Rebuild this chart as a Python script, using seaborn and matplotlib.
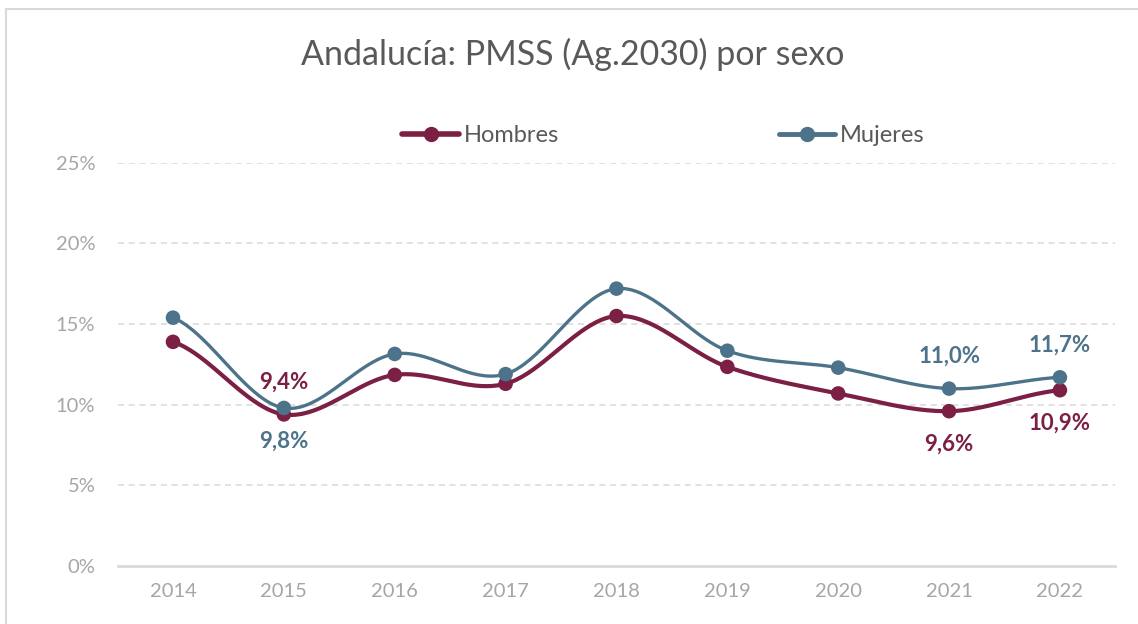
import numpy as np
import pandas as pd
import matplotlib
matplotlib.use("Agg")
import matplotlib.pyplot as plt
import seaborn as sns
from matplotlib.lines import Line2D
from matplotlib.patches import Rectangle

years = [2014, 2015, 2016, 2017, 2018, 2019, 2020, 2021, 2022]
hombres = [13.9, 9.4, 11.85, 11.3, 15.5, 12.35, 10.7, 9.6, 10.9]
mujeres = [15.4, 9.8, 13.15, 11.9, 17.2, 13.35, 12.3, 11.0, 11.7]

# etiquetas visibles en el gráfico original (índice, texto, arriba/abajo)
labels_h = {1: ("9,4%", "up"), 7: ("9,6%", "down"), 8: ("10,9%", "down")}
labels_m = {1: ("9,8%", "down"), 7: ("11,0%", "up"), 8: ("11,7%", "up")}

c_h = "#7B1F45"
c_m = "#4D738A"


def smooth(y, n=40):
    # spline tipo Catmull-Rom, parecido al suavizado de Excel
    y = np.asarray(y, float)
    x = np.arange(len(y), dtype=float)
    px = np.concatenate([[2 * x[0] - x[1]], x, [2 * x[-1] - x[-2]]])
    py = np.concatenate([[y[0]], y, [y[-1]]])
    xs, ys = [], []
    for i in range(1, len(px) - 2):
        t = np.linspace(0, 1, n, endpoint=False)
        for p, out in ((px, xs), (py, ys)):
            p0, p1, p2, p3 = p[i - 1], p[i], p[i + 1], p[i + 2]
            out.extend(0.5 * ((2 * p1) + (-p0 + p2) * t
                              + (2 * p0 - 5 * p1 + 4 * p2 - p3) * t ** 2
                              + (-p0 + 3 * p1 - 3 * p2 + p3) * t ** 3))
    xs.append(x[-1]); ys.append(y[-1])
    return np.array(xs), np.array(ys)


sns.set_style("white")
plt.rcParams["font.family"] = ["Lato", "DejaVu Sans"]

fig = plt.figure(figsize=(11.38, 6.24), dpi=100)
ax = fig.add_axes([0.1033, 0.093, 0.8768, 0.646])

for vals, col, lw in ((hombres, c_h, 3.0), (mujeres, c_m, 2.4)):
    sx, sy = smooth(vals)
    df = pd.DataFrame({"x": sx, "y": sy})
    sns.lineplot(data=df, x="x", y="y", ax=ax, color=col, lw=lw, sort=False,
                 estimator=None, solid_capstyle="round")
    pts = pd.DataFrame({"x": np.arange(len(vals)), "y": vals})
    sns.scatterplot(data=pts, x="x", y="y", ax=ax, color=col, s=110,
                    edgecolor="none", zorder=5)

for labs, vals, col in ((labels_h, hombres, c_h), (labels_m, mujeres, c_m)):
    for i, (txt, pos) in labs.items():
        off = 23 if pos == "up" else -24
        ax.annotate(txt, (i, vals[i]), xytext=(0, off), textcoords="offset points",
                    ha="center", va="center", color=col, fontsize=16,
                    fontweight="bold")

ax.set_xlim(-0.5, len(years) - 0.5)
ax.set_ylim(0, 25)
ax.set_xticks(range(len(years)))
ax.set_xticklabels([str(y) for y in years])
ax.set_yticks([0, 5, 10, 15, 20, 25])
ax.set_yticklabels([f"{v}%" for v in [0, 5, 10, 15, 20, 25]])
ax.tick_params(axis="both", length=0, labelsize=14.5, colors="#A6A6A6")
ax.tick_params(axis="x", pad=12)
ax.tick_params(axis="y", pad=16)
ax.set_xlabel("")
ax.set_ylabel("")
for v in [5, 10, 15, 20, 25]:
    ax.axhline(v, color="#D9D9D9", lw=1.1, ls=(0, (4, 3)), zorder=0)
for s in ["top", "right", "left"]:
    ax.spines[s].set_visible(False)
ax.spines["bottom"].set_color("#D9D9D9")
ax.spines["bottom"].set_linewidth(2)

fig.text(0.503, 0.912, "Andalucía: PMSS (Ag.2030) por sexo", ha="center",
         va="center", fontsize=24.5, color="#595959")

handles = [Line2D([0], [0], color=c_h, lw=4, marker="o", markersize=10),
           Line2D([0], [0], color=c_m, lw=3.5, marker="o", markersize=10)]
fig.legend(handles, ["Hombres", "Mujeres"], loc="center",
           bbox_to_anchor=(0.583, 0.783), ncol=2, frameon=False,
           fontsize=17, labelcolor="#595959", handlelength=2.4,
           handletextpad=0.2, columnspacing=9.3)

fig.patches.append(Rectangle((0.005, -0.1), 1.2, 1.085, transform=fig.transFigure,
                             fill=False, edgecolor="#D9D9D9", lw=1.5))

fig.savefig("out.png", dpi=100)
